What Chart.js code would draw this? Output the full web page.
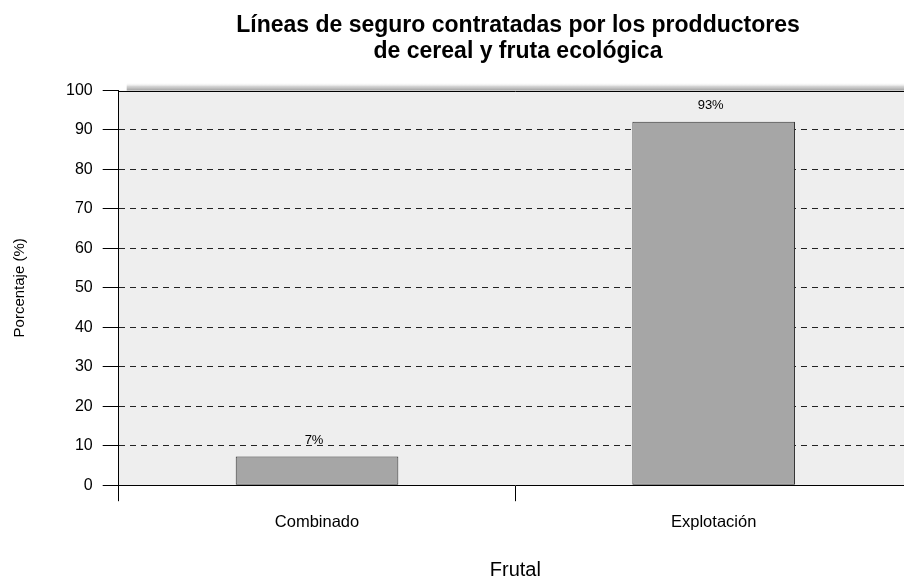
<!DOCTYPE html>
<html>
<head>
<meta charset="utf-8">
<script src="https://cdn.jsdelivr.net/npm/chart.js@4/dist/chart.umd.min.js"></script>
<style>
    body { margin: 0; background: #fff; }
    #wrap { width: 904px; height: 579px; overflow: hidden; }
</style>
</head>
<body>
<div id="wrap"><canvas id="chart" width="1036" height="579"></canvas></div>
<script>
const categories = ['Combinado', 'Explotación']
const shares = [7.3, 92.1]
const shareLabels = ['7%', '93%']
const yTicks = [0, 10, 20, 30, 40, 50, 60, 70, 80, 90, 100]

const FONT = '"Liberation Sans", Arial, Helvetica, sans-serif'
Chart.defaults.font.family = FONT
Chart.defaults.color = '#000'

// grey panel, soft shadow on top edge and a solid frame line at 100
const panelPlugin = {
    id: 'panel',
    beforeDraw(chart) {
        const {ctx, chartArea: a} = chart
        ctx.save()
        ctx.fillStyle = '#eeeeee'
        ctx.fillRect(a.left, a.top, a.right - a.left, a.bottom - a.top)
        const g = ctx.createLinearGradient(0, a.top - 8, 0, a.top)
        g.addColorStop(0, 'rgba(255,255,255,0)')
        g.addColorStop(0.5, 'rgba(200,200,200,0.8)')
        g.addColorStop(1, 'rgba(160,160,160,1)')
        ctx.fillStyle = g
        ctx.fillRect(a.left + 8, a.top - 8, a.right - a.left, 8)
        ctx.restore()
    },
    afterDraw(chart) {
        const {ctx, chartArea: a} = chart
        ctx.save()
        ctx.strokeStyle = '#000'
        ctx.lineWidth = 1
        ctx.beginPath()
        ctx.moveTo(a.left, Math.round(a.top) + 0.5)
        ctx.lineTo(a.right, Math.round(a.top) + 0.5)
        ctx.stroke()
        ctx.restore()
    }
}

const barLabelPlugin = {
    id: 'barLabels',
    afterDatasetsDraw(chart) {
        const {ctx} = chart
        const meta = chart.getDatasetMeta(0)
        ctx.save()
        ctx.font = '13px ' + FONT
        ctx.fillStyle = '#000'
        ctx.textAlign = 'center'
        ctx.textBaseline = 'middle'
        meta.data.forEach((bar, i) => {
            ctx.fillText(shareLabels[i], bar.x - 3, bar.y - 16)
        })
        ctx.restore()
    }
}

new Chart(document.getElementById('chart'), {
    type: 'bar',
    data: {
        labels: categories,
        datasets: [{
            data: shares,
            backgroundColor: '#a6a6a6',
            borderColor: '#333333',
            borderWidth: 1,
            borderSkipped: false,
            categoryPercentage: 1,
            barPercentage: 0.41,
        }]
    },
    options: {
        responsive: false,
        animation: false,
        devicePixelRatio: 1,
        layout: {padding: 0},
        plugins: {
            legend: {display: false},
            tooltip: {enabled: false},
            title: {
                display: true,
                text: ['Líneas de seguro contratadas por los prodductores', 'de cereal y fruta ecológica'],
                font: {size: 23, weight: 'bold', lineHeight: 1.12},
                color: '#000',
                padding: {top: 13, bottom: 26},
            },
        },
        scales: {
            x: {
                offset: true,
                grid: {
                    offset: true,
                    drawOnChartArea: false,
                    tickLength: 16,
                    tickColor: '#000',
                },
                border: {color: '#000', width: 1},
                ticks: {font: {size: 16.5}, padding: 11, color: '#000'},
                title: {
                    display: true,
                    text: 'Frutal',
                    font: {size: 20, lineHeight: 0.9},
                    padding: {top: 18, bottom: 0},
                    color: '#000',
                },
            },
            y: {
                min: 0,
                max: 100,
                afterBuildTicks(scale) {
                    scale.ticks = yTicks.map(v => ({value: v}))
                },
                grid: {
                    color: (c) => (c.tick && (c.tick.value === 0 || c.tick.value === 100)) ? 'rgba(0,0,0,0)' : '#222',
                    tickColor: '#000',
                    tickLength: 16,
                    tickBorderDash: [],
                },
                border: {color: '#000', width: 1, dash: [6, 5]},
                ticks: {font: {size: 16}, padding: 10, color: '#000'},
                title: {
                    display: true,
                    text: 'Porcentaje (%)',
                    font: {size: 15, lineHeight: 1.2},
                    padding: {top: 11, bottom: 27},
                    color: '#000',
                },
            },
            yRight: {
                type: 'linear',
                position: 'right',
                display: true,
                grid: {display: false},
                border: {display: false},
                ticks: {display: false},
                afterFit(scale) {
                    scale.width = 124
                },
            },
        },
    },
    plugins: [panelPlugin, barLabelPlugin],
})
</script>
</body>
</html>
